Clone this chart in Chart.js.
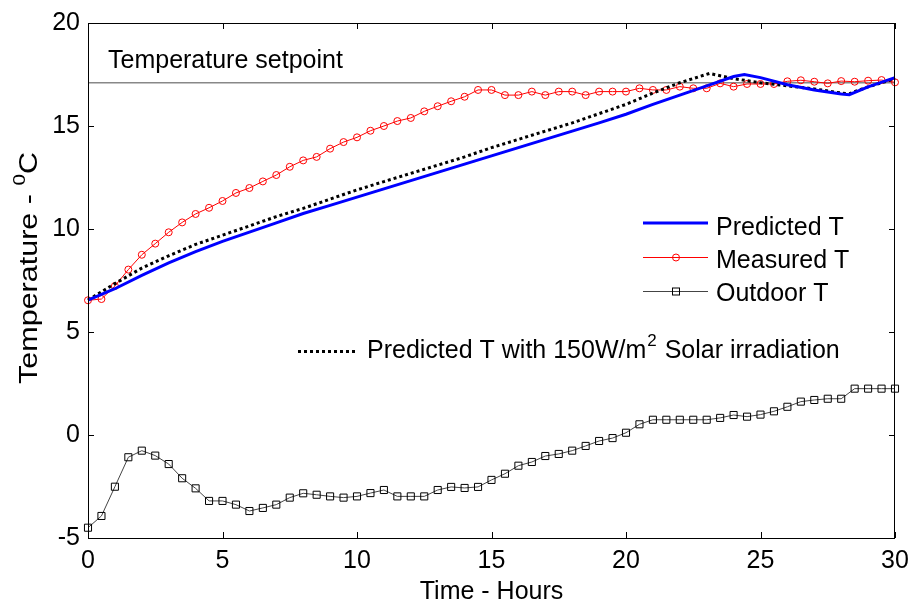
<!DOCTYPE html>
<html>
<head>
<meta charset="utf-8">
<script src="https://cdn.jsdelivr.net/npm/chart.js@4/dist/chart.umd.min.js"></script>
<style>
  body { margin: 0; background: #fff; }
  #wrap { width: 911px; height: 603px; }
</style>
</head>
<body>
<div id="wrap"><canvas id="chart" width="911" height="603"></canvas></div>
<script>
/* ── Data ── */
// half-hour samples 0 .. 30 h
const halfHours = Array.from({ length: 61 }, (_, i) => i * 0.5);

const measuredT = [6.54, 6.60, 7.23, 8.03, 8.75, 9.29, 9.84, 10.32, 10.73, 11.03,
  11.36, 11.75, 11.99, 12.31, 12.62, 13.02, 13.33, 13.50, 13.90, 14.22,
  14.45, 14.77, 15.00, 15.24, 15.39, 15.71, 15.96, 16.20, 16.42, 16.75,
  16.75, 16.50, 16.50, 16.67, 16.50, 16.67, 16.67, 16.50, 16.67, 16.67,
  16.67, 16.83, 16.75, 16.75, 16.91, 16.83, 16.83, 17.07, 16.91, 17.04,
  17.04, 17.04, 17.17, 17.22, 17.15, 17.07, 17.18, 17.15, 17.20, 17.23, 17.12];

const outdoorT = [-4.50, -3.93, -2.51, -1.08, -0.76, -1.00, -1.41, -2.10, -2.59, -3.20,
  -3.20, -3.38, -3.69, -3.54, -3.38, -3.04, -2.83, -2.90, -2.98, -3.04,
  -2.98, -2.82, -2.67, -2.98, -2.98, -2.98, -2.67, -2.52, -2.57, -2.52,
  -2.18, -1.88, -1.49, -1.31, -1.02, -0.92, -0.76, -0.53, -0.29, -0.15,
  0.11, 0.52, 0.74, 0.74, 0.74, 0.74, 0.74, 0.83, 0.97, 0.89,
  0.99, 1.15, 1.37, 1.62, 1.70, 1.76, 1.76, 2.25, 2.25, 2.25, 2.25];

const predHours = [0, 1, 2, 3, 4, 5, 6, 7, 8, 9, 10, 11, 12, 13, 14, 15, 16, 17, 18, 19, 20,
  21, 22, 23, 24, 24.4, 25, 26, 27, 28, 28.3, 29, 30];
const predictedT = [6.55, 7.1, 7.75, 8.35, 8.9, 9.4, 9.85, 10.3, 10.75, 11.15, 11.55,
  11.95, 12.35, 12.75, 13.15, 13.55, 13.95, 14.35, 14.75, 15.15, 15.57,
  16.05, 16.5, 16.95, 17.4, 17.5, 17.35, 17.0, 16.75, 16.55, 16.52, 16.9, 17.35];

const solarHours = [0, 1, 2, 3, 4, 5, 6, 7, 8, 9, 10, 11, 12, 13, 14, 15, 16, 17, 18, 19, 20,
  21, 22, 23.1, 24, 25, 26, 27, 28, 28.3, 29, 30];
const solarT = [6.55, 7.35, 8.1, 8.7, 9.25, 9.7, 10.15, 10.6, 11.0, 11.45, 11.9,
  12.3, 12.7, 13.1, 13.5, 13.95, 14.35, 14.75, 15.15, 15.6, 16.05,
  16.6, 17.1, 17.55, 17.3, 17.1, 16.95, 16.8, 16.6, 16.57, 16.9, 17.3];

const setpoint = 17.1;
const xTicks = [0, 5, 10, 15, 20, 25, 30];
const yTicks = [-5, 0, 5, 10, 15, 20];

const FONT = '"Liberation Sans", Arial, sans-serif';
const F25 = "25px " + FONT, F17 = "17px " + FONT;

function pts(xs, ys) { return xs.map((x, i) => ({ x: x, y: ys[i] })); }

/* ── Frame, inward ticks, labels, legend ── */
const decor = {
  id: "decor",
  afterDatasetsDraw(chart) {
    const { ctx, chartArea: a, scales } = chart;
    ctx.save();
    ctx.strokeStyle = "#000";
    ctx.lineWidth = 1;
    ctx.strokeRect(a.left + 0.5, a.top + 0.5, a.right - a.left - 1, a.bottom - a.top);
    ctx.beginPath();
    xTicks.forEach(v => {
      const px = Math.round(scales.x.getPixelForValue(v)) + 0.5;
      ctx.moveTo(px, a.bottom); ctx.lineTo(px, a.bottom - 6);
      ctx.moveTo(px, a.top); ctx.lineTo(px, a.top + 6);
    });
    yTicks.forEach(v => {
      const py = Math.round(scales.y.getPixelForValue(v)) + 0.5;
      ctx.moveTo(a.left, py); ctx.lineTo(a.left + 6, py);
      ctx.moveTo(a.right, py); ctx.lineTo(a.right - 6, py);
    });
    ctx.stroke();
    ctx.restore();
  },
  afterDraw(chart) {
    const { ctx, chartArea: a } = chart;
    ctx.save();
    ctx.fillStyle = "#000";
    ctx.textBaseline = "alphabetic";
    ctx.font = F25;

    // setpoint label
    ctx.fillText("Temperature setpoint", 108, 68);

    // legend (no box)
    const lx0 = 643, lx1 = 708, mx = 676, tx = 716;
    ctx.lineWidth = 3; ctx.strokeStyle = "#0000ff";
    ctx.beginPath(); ctx.moveTo(lx0, 223); ctx.lineTo(lx1, 223); ctx.stroke();
    ctx.fillText("Predicted T", tx, 235);

    ctx.lineWidth = 1; ctx.strokeStyle = "#ff0000";
    ctx.beginPath(); ctx.moveTo(lx0, 257.5); ctx.lineTo(lx1, 257.5); ctx.stroke();
    ctx.beginPath(); ctx.arc(mx, 257.5, 3.5, 0, Math.PI * 2); ctx.stroke();
    ctx.fillText("Measured T", tx, 268);

    ctx.strokeStyle = "#444";
    ctx.beginPath(); ctx.moveTo(lx0, 291.5); ctx.lineTo(lx1, 291.5); ctx.stroke();
    ctx.strokeStyle = "#000";
    ctx.strokeRect(mx - 3.5, 288, 7, 7);
    ctx.fillText("Outdoor T", tx, 301);

    // solar legend
    ctx.lineWidth = 3; ctx.setLineDash([3, 3]);
    ctx.beginPath(); ctx.moveTo(298, 351.5); ctx.lineTo(355, 351.5); ctx.stroke();
    ctx.setLineDash([]);
    let x = 367;
    const s1 = "Predicted T with 150W/m";
    ctx.fillText(s1, x, 358); x += ctx.measureText(s1).width;
    ctx.font = F17;
    ctx.fillText("2", x + 1, 346); x += ctx.measureText("2").width + 2;
    ctx.font = F25;
    ctx.fillText(" Solar irradiation", x, 358);

    // x title
    ctx.textAlign = "center";
    ctx.fillText("Time - Hours", (a.left + a.right) / 2, 599);

    // y title with superscript (stretched along its length like the reference)
    ctx.translate(37, 268);
    ctx.rotate(-Math.PI / 2);
    ctx.scale(1.22, 1);
    ctx.textAlign = "left";
    const p1 = "Temperature - ";
    ctx.font = F25;
    const w1 = ctx.measureText(p1).width, w3 = ctx.measureText("C").width;
    ctx.font = F17;
    const w2 = ctx.measureText("0").width;
    let sx = -(w1 + w2 + w3) / 2;
    ctx.font = F25;
    ctx.fillText(p1, sx, 0); sx += w1;
    ctx.font = F17;
    ctx.fillText("0", sx, -12); sx += w2;
    ctx.font = F25;
    ctx.fillText("C", sx, 0);
    ctx.restore();
  }
};

new Chart(document.getElementById("chart"), {
  type: "line",
  data: {
    datasets: [
      { label: "Predicted T", data: pts(predHours, predictedT), borderColor: "#0000ff",
        borderWidth: 3, pointRadius: 0, tension: 0 },
      { label: "Predicted T with 150W/m2 Solar irradiation", data: pts(solarHours, solarT),
        borderColor: "#000", borderWidth: 3, borderDash: [3, 3], pointRadius: 0 },
      { label: "Measured T", data: pts(halfHours, measuredT), borderColor: "#ff0000",
        borderWidth: 1, pointStyle: "circle", pointRadius: 3.5,
        pointBorderColor: "#ff0000", pointBackgroundColor: "rgba(0,0,0,0)", pointBorderWidth: 1 },
      { label: "Outdoor T", data: pts(halfHours, outdoorT), borderColor: "#444",
        borderWidth: 1, pointStyle: "rect", pointRadius: 5,
        pointBorderColor: "#000", pointBackgroundColor: "rgba(0,0,0,0)", pointBorderWidth: 1 },
      { label: "Temperature setpoint", data: pts([0, 30], [setpoint, setpoint]),
        borderColor: "#888", borderWidth: 1.5, pointRadius: 0 }
    ]
  },
  options: {
    responsive: false,
    animation: false,
    clip: false,
    layout: { padding: { top: 23, right: 16, left: 0, bottom: 0 } },
    plugins: { legend: { display: false }, tooltip: { enabled: false } },
    scales: {
      x: {
        type: "linear", min: 0, max: 30,
        afterFit: s => { s.height = 65; s.paddingLeft = 0; s.paddingRight = 0; },
        afterBuildTicks: s => { s.ticks = xTicks.map(v => ({ value: v })); },
        grid: { display: false, drawTicks: false },
        border: { display: false },
        ticks: { color: "#000", padding: 8, font: { family: FONT, size: 25 } }
      },
      y: {
        type: "linear", min: -5, max: 20,
        afterFit: s => { s.width = 88; s.paddingTop = 0; s.paddingBottom = 0; },
        afterBuildTicks: s => { s.ticks = yTicks.map(v => ({ value: v })); },
        grid: { display: false, drawTicks: false },
        border: { display: false },
        ticks: { color: "#000", padding: 8, font: { family: FONT, size: 25 } }
      }
    }
  },
  plugins: [decor]
});
</script>
</body>
</html>
